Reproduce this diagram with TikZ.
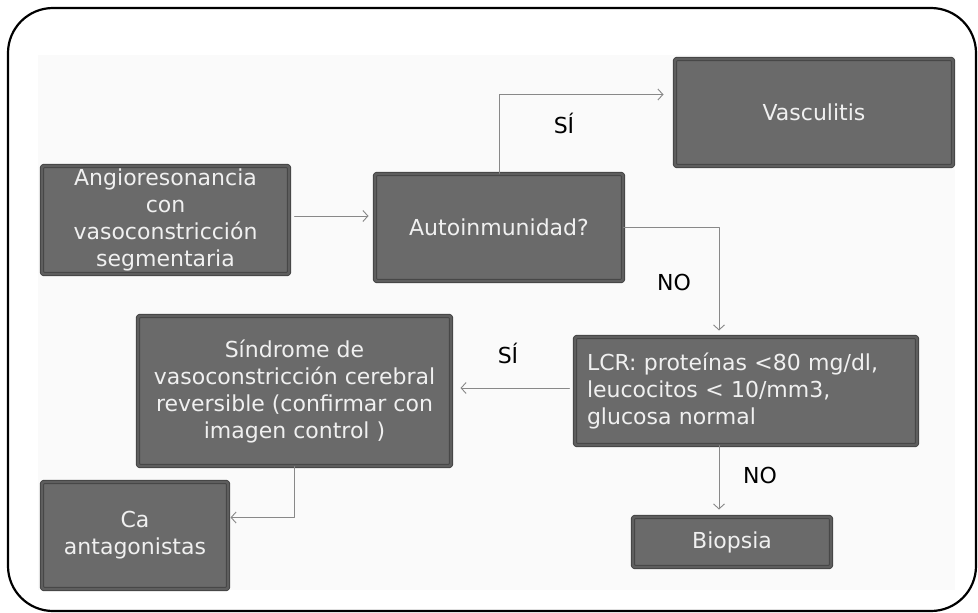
\documentclass[tikz,border=0pt]{standalone}
\usepackage{fontspec}
\setmainfont{DejaVu Sans}
\usetikzlibrary{arrows.meta,positioning}
\definecolor{boxfill}{HTML}{6A6A6A}
\definecolor{boxline}{HTML}{444444}
\definecolor{boxband}{HTML}{5E5E5E}
\definecolor{linkgray}{HTML}{888888}
\definecolor{slidegray}{HTML}{FAFAFA}
\tikzset{
  flow box/.style={draw=boxline,line width=1pt,double=boxband,double distance=2.4pt,
    fill=boxfill,text=white!94!black,rounded corners=2pt,
    font=\fontsize{22}{27}\selectfont,align=center,inner sep=2pt},
  flow link/.style={draw=linkgray,line width=.9pt,-{Straight Barb[length=5pt,width=11pt]}},
  flow label/.style={font=\fontsize{22}{27}\selectfont,anchor=base,inner sep=0pt}
}

\begin{document}
\begin{tikzpicture}[x=1pt,y=-1pt,line cap=round,line join=round]
  \useasboundingbox (0,0) rectangle (978,613);
  \fill[slidegray] (38,55) rectangle (955,590);
  \draw[line width=2.2pt,rounded corners=45pt] (8,8) rectangle (976,611);

  \node[flow box,minimum width=247pt,minimum height=108pt] (angio) at (165.5,220)
    {Angioresonancia\\con\\vasoconstricción\\segmentaria};
  \node[flow box,minimum width=248pt,minimum height=107pt] (autoinm) at (499,227.5)
    {Autoinmunidad?};
  \node[flow box,minimum width=278pt,minimum height=107pt] (vasc) at (814,112.5)
    {Vasculitis};
  \node[flow box,minimum width=313pt,minimum height=150pt] (sindrome) at (294.5,391)
    {Síndrome de\\vasoconstricción cerebral\\reversible (confirmar con\\imagen control )};
  \node[flow box,minimum width=186pt,minimum height=107pt] (ca) at (135,535.5)
    {Ca\\antagonistas};
  \node[flow box,text width=318pt,align=left,inner xsep=12pt,minimum height=108pt] (lcr) at (746,391)
    {LCR: proteínas <80 mg/dl,\\leucocitos < 10/mm3,\\glucosa normal};
  \node[flow box,minimum width=198pt,minimum height=50pt] (biopsia) at (732,542)
    {Biopsia};

  \draw[flow link] ([xshift=5pt,yshift=4pt]angio.east) -- ([xshift=-6pt,yshift=11.5pt]autoinm.west);
  \draw[flow link] (autoinm.north) |- ([xshift=-11pt,yshift=18pt]vasc.west);
  \draw[flow link] (autoinm.east) -| ([xshift=-27pt,yshift=6pt]lcr.north);
  \draw[flow link] ([xshift=-5pt,yshift=3pt]lcr.west) -- ([xshift=9pt,yshift=3pt]sindrome.east);
  \draw[flow link] ([xshift=-27pt]lcr.south) -- ([xshift=-13pt,yshift=7pt]biopsia.north);
  \draw[flow link] (sindrome.south) |- ([xshift=2pt,yshift=18pt]ca.east);

  \node[flow label] (si top) at (564,133) {SÍ};
  \node[flow label] (no top) at (674,290) {NO};
  \node[flow label] (si left) at (508,363) {SÍ};
  \node[flow label] (no bottom) at (760,483) {NO};
\end{tikzpicture}
\end{document}
